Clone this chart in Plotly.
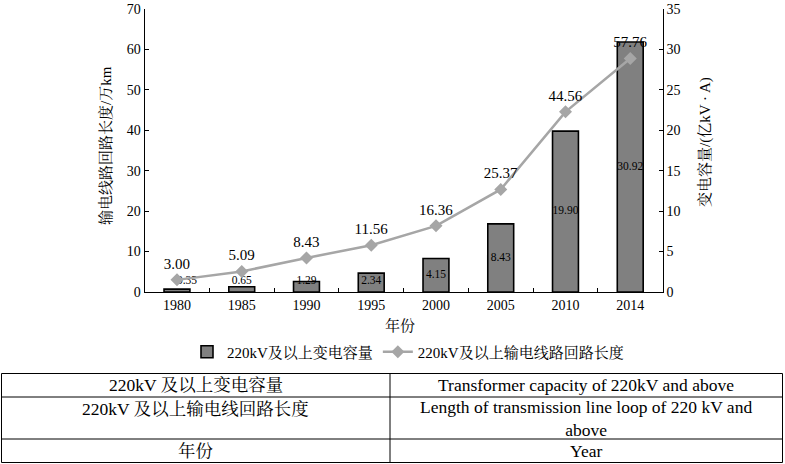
import plotly.graph_objects as go

# data
years = ['1980', '1985', '1990', '1995', '2000', '2005', '2010', '2014']
capacity = [0.35, 0.65, 1.29, 2.34, 4.15, 8.43, 19.90, 30.92]       # 亿kV·A, right axis
line_length = [3.00, 5.09, 8.43, 11.56, 16.36, 25.37, 44.56, 57.76]  # 万km, left axis

table_cn = ['220kV 及以上变电容量', '220kV 及以上输电线回路长度', '年份']
table_en = ['Transformer capacity of 220kV and above',
            'Length of transmission line loop of 220 kV and<br>above', 'Year']

W, H = 785, 464
FONT = 'Liberation Serif, Times New Roman, Noto Serif CJK SC, Noto Sans CJK SC'


def px(x):
    return x / W


def py(y):
    return 1 - y / H


fig = go.Figure()

# bars on the right-hand axis
fig.add_trace(go.Bar(
    x=years, y=capacity, yaxis='y',
    name='220kV及以上变电容量',
    marker=dict(color='#808080', line=dict(color='black', width=1.6)),
    width=0.4,
    hoverinfo='skip',
))

# bar value labels (centre of bar, kept just above the baseline for tiny bars;
# the first one sits to the right so it clears the line marker)
fig.add_trace(go.Scatter(
    x=years, y=[max(v / 2, 1.3) for v in capacity], yaxis='y',
    mode='text', text=['%.2f' % v for v in capacity],
    textposition=['middle right'] + ['middle center'] * (len(years) - 1),
    textfont=dict(family=FONT, size=11.5, color='black'),
    showlegend=False, hoverinfo='skip',
))

# line on the left-hand axis, drawn above bars
fig.add_trace(go.Scatter(
    x=years, y=line_length, yaxis='y2',
    name='220kV及以上输电线路回路长度',
    mode='lines+markers+text',
    line=dict(color='#A6A6A6', width=2.5),
    marker=dict(symbol='diamond', size=10, color='#A6A6A6'),
    text=['%.2f' % v for v in line_length],
    textposition='top center',
    textfont=dict(family=FONT, size=15, color='black'),
    hoverinfo='skip',
))

axis_common = dict(
    showline=True, linecolor='black', linewidth=1,
    ticks='inside', ticklen=4, tickcolor='black',
    showgrid=False, zeroline=False, automargin=False,
    tickfont=dict(family=FONT, size=14, color='black'),
)

fig.update_layout(
    width=W, height=H,
    margin=dict(l=0, r=0, t=0, b=0),
    paper_bgcolor='white', plot_bgcolor='white',
    font=dict(family=FONT, size=14, color='black'),
    xaxis=dict(domain=[px(144.6), px(662.6)], anchor='y', tickson='boundaries',
               **axis_common),
    yaxis=dict(domain=[py(292), py(9)], side='right', range=[0, 35],
               tickvals=[0, 5, 10, 15, 20, 25, 30, 35], anchor='x', **axis_common),
    yaxis2=dict(overlaying='y', side='left', range=[0, 70],
                tickvals=[0, 10, 20, 30, 40, 50, 60, 70], anchor='x', **axis_common),
    bargap=0.6,
    legend=dict(orientation='h', x=px(408), xanchor='center', y=py(352), yanchor='middle',
                font=dict(family=FONT, size=15), itemwidth=30, traceorder='normal',
                bgcolor='rgba(0,0,0,0)'),
    showlegend=True,
)

annotations = [
    dict(text='输电线路回路长度/万km', x=px(105), y=py(146), textangle=-90),
    dict(text='变电容量/(亿kV · A)', x=px(705), y=py(142), textangle=-90),
    dict(text='年份', x=px(400), y=py(325)),
]
for a in annotations:
    a.update(xref='paper', yref='paper', showarrow=False, xanchor='center', yanchor='middle',
             font=dict(family=FONT, size=15, color='black'))
    fig.add_annotation(**a)

# table below the chart
row_lines = [373.5, 397, 439, 462.5]
row_text_y = [385, 418, 451]
left, mid, right = 1.5, 390, 782.5
for y in row_lines:
    fig.add_shape(type='line', xref='paper', yref='paper', x0=px(left), x1=px(right),
                  y0=py(y), y1=py(y), line=dict(color='black', width=1))
for x in (left, mid, right):
    fig.add_shape(type='line', xref='paper', yref='paper', x0=px(x), x1=px(x),
                  y0=py(row_lines[0]), y1=py(row_lines[-1]), line=dict(color='black', width=1))
for cn, en, y in zip(table_cn, table_en, row_text_y):
    cn_y = y if '<br>' not in en else 409
    fig.add_annotation(text=cn, x=px((left + mid) / 2), y=py(cn_y), xref='paper', yref='paper',
                       xanchor='center', yanchor='middle', showarrow=False,
                       font=dict(family=FONT, size=17.5, color='black'))
    fig.add_annotation(text=en, x=px((mid + right) / 2), y=py(y), xref='paper', yref='paper',
                       xanchor='center', yanchor='middle', showarrow=False,
                       font=dict(family=FONT, size=17.5, color='black'))

fig.write_html('out.html', config={'displayModeBar': False},
               post_script="document.body.style.margin='0px';")
